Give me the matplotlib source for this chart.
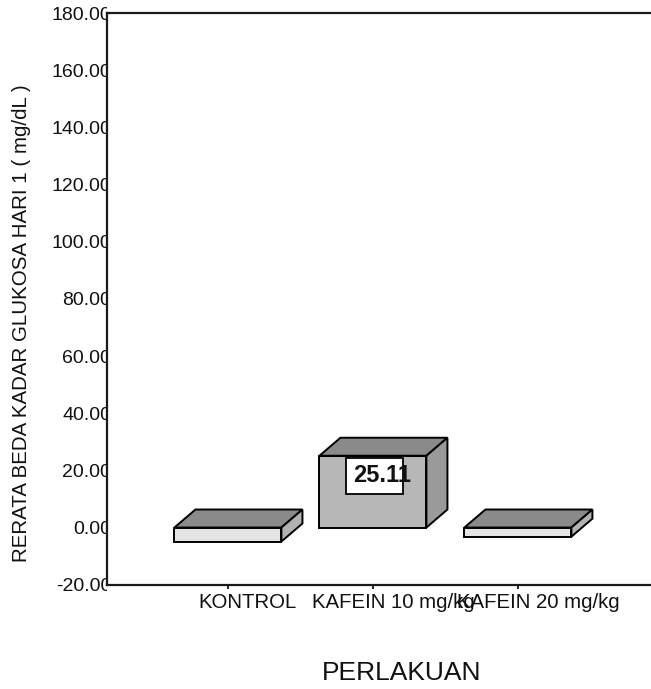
import matplotlib
matplotlib.use("Agg")
import matplotlib.pyplot as plt
from matplotlib.patches import Polygon, Rectangle
from matplotlib.transforms import Bbox, TransformedBbox, ScaledTranslation

# Mean difference of blood glucose on day 1 per treatment group
categories = ["KONTROL", "KAFEIN 10 mg/kg", "KAFEIN 20 mg/kg"]
means = [-4.9, 25.11, -3.2]
y_ticks = [-20, 0, 20, 40, 60, 80, 100, 120, 140, 160, 180]
value_labels = {1: "25.11"}

plt.rcParams['font.family'] = ['Liberation Sans', 'DejaVu Sans']

W, H, DPI = 651, 689, 100
fig = plt.figure(figsize=(W / DPI, H / DPI), dpi=DPI)
ax = fig.add_axes([107 / W, 0.1514, 553 / W, 0.8297])
ax.set_xlim(-0.834, 2.98)
ax.set_ylim(-20, 180)

# pseudo-3D box geometry
bar_w = 0.738
dx = 0.145   # depth offset along x (data units)
dy = 6.3     # depth offset along y (data units)
edge = dict(edgecolor='black', linewidth=1.4, joinstyle='miter')

for i, v in enumerate(means):
    lo, hi = min(0, v), max(0, v)
    positive = v > 0
    front_c = '#b7b7b7' if positive else '#e4e4e4'
    top_c = '#8a8a8a'
    side_c = '#9a9a9a' if positive else '#b2b2b2'
    ax.bar(i, v, width=bar_w, color=front_c, zorder=3, **edge)
    x0, x1 = i - bar_w / 2, i + bar_w / 2
    ax.add_patch(Polygon([(x0, hi), (x1, hi), (x1 + dx, hi + dy), (x0 + dx, hi + dy)],
                         closed=True, facecolor=top_c, zorder=3, **edge))
    ax.add_patch(Polygon([(x1, lo), (x1, hi), (x1 + dx, hi + dy), (x1 + dx, lo + dy)],
                         closed=True, facecolor=side_c, zorder=3, **edge))

# value label box (text clipped by its frame)
for i, txt in value_labels.items():
    v = means[i]
    box = Rectangle((i - 0.185, v - 13.3), 0.393, 12.6, facecolor='white',
                    edgecolor='black', linewidth=1.3, zorder=4)
    ax.add_patch(box)
    t = ax.text(i - 0.136, v - 6.9, txt, ha='left', va='center', fontsize=17,
                fontweight='bold', color='#111111', zorder=5)
    t.set_clip_path(box)

# axes styling
for side in ['left', 'top', 'bottom']:
    ax.spines[side].set_linewidth(1.6)
    ax.spines[side].set_color('#1a1a1a')
ax.spines['right'].set_visible(False)

ax.set_yticks(y_ticks)
ax.set_yticklabels([f"{t:.2f}" for t in y_ticks], fontsize=14, color='#111111')
ax.tick_params(axis='y', length=0, pad=-3)
clip = TransformedBbox(Bbox([[0, 0], [107.5 / W, 1]]), fig.transFigure)
for tk in ax.yaxis.get_major_ticks():
    tk.label1.set_clip_box(clip)
    tk.label1.set_clip_on(True)

ax.set_xticks(range(len(categories)))
ax.set_xticklabels([])
ax.tick_params(axis='x', direction='out', length=3, width=1.2)
shift = ax.get_xaxis_transform() + ScaledTranslation(20 / DPI, 0, fig.dpi_scale_trans)
for i, c in enumerate(categories):
    ax.text(i, -0.032, c, transform=shift, ha='center', va='center',
            fontsize=14.7, color='#111111')

fig.text(22 / W, 1 - 323 / H, "RERATA BEDA KADAR GLUKOSA HARI 1 ( mg/dL )",
         rotation=90, ha='center', va='center', fontsize=14.8, color='#111111')
fig.text(402 / W, 1 - 673 / H, "PERLAKUAN", ha='center', va='center',
         fontsize=19, color='#111111')

fig.savefig("out.png", dpi=DPI)
